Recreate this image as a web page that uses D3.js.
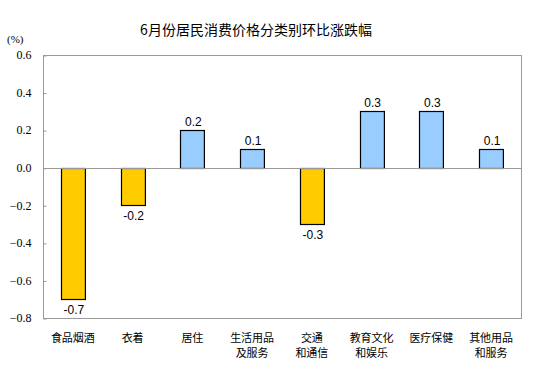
<!DOCTYPE html>
<html>
<head>
<meta charset="utf-8">
<script src="https://cdn.jsdelivr.net/npm/d3@7"></script>
<style>
  body { margin:0; background:#fff; }
  svg { display:block; }
</style>
</head>
<body>
<div id="chart"></div>
<script>
// data
const categories = [["食品烟酒"], ["衣着"], ["居住"], ["生活用品", "及服务"], ["交通", "和通信"], ["教育文化", "和娱乐"], ["医疗保健"], ["其他用品", "和服务"]];
const values = [-0.7, -0.2, 0.2, 0.1, -0.3, 0.3, 0.3, 0.1];
const yTicks = [0.6, 0.4, 0.2, 0.0, -0.2, -0.4, -0.6, -0.8];
const title = "6月份居民消费价格分类别环比涨跌幅";

let width = 554, height = 384,
    margin = { top:55, left:43, right:33, bottom:66 },
    innerW = width - margin.left - margin.right,
    innerH = height - margin.top - margin.bottom;

let svg = d3.select("#chart").append("svg").attr("width", width).attr("height", height)
let g = svg.append("g").attr("transform", `translate(${margin.left},${margin.top})`)

let xScale = d3.scaleBand().domain(d3.range(values.length)).range([0, innerW]).paddingInner(0.6).paddingOuter(0.3)
let yScale = d3.scaleLinear().domain([-0.8, 0.6]).range([innerH, 0])

// frame
g.append("rect").attr("x", 0.5).attr("y", 0.5).attr("width", innerW).attr("height", innerH)
  .attr("fill", "none").attr("stroke", "#999").attr("stroke-width", 1)

// y axis
let yAxis = d3.axisLeft(yScale).tickValues(yTicks).tickFormat(d3.format(".1f")).tickSize(-3).tickPadding(12)
let yGroup = g.append("g").attr("transform", "translate(0.5,0)").call(yAxis)
yGroup.select(".domain").remove()
yGroup.selectAll("line").attr("stroke", "#999").attr("transform", "translate(0,0.5)")
yGroup.selectAll("text").attr("font-family", "'Liberation Serif', serif").attr("font-size", 12).attr("fill", "#000")

// bars
g.selectAll("rect.bar").data(values).enter().append("rect")
  .attr("class", "bar")
  .attr("x", (d, i) => Math.round(xScale(i)) + 0.5)
  .attr("y", d => Math.round(yScale(Math.max(0, d))) + 0.5)
  .attr("width", xScale.bandwidth())
  .attr("height", d => Math.abs(Math.round(yScale(d)) - Math.round(yScale(0))))
  .attr("fill", d => d < 0 ? "#FFCC00" : "#99CCFF")
  .attr("stroke", "#000").attr("stroke-width", 1.2)

// zero line
g.append("line").attr("x1", 0).attr("x2", innerW)
  .attr("y1", Math.round(yScale(0)) + 0.5).attr("y2", Math.round(yScale(0)) + 0.5)
  .attr("stroke", "#999")

// value labels
g.selectAll("text.val").data(values).enter().append("text")
  .attr("class", "val")
  .attr("x", (d, i) => xScale(i) + xScale.bandwidth() / 2 + 1)
  .attr("y", d => d < 0 ? yScale(d) + 15 : yScale(d) - 4)
  .attr("text-anchor", "middle")
  .attr("font-family", "'Liberation Sans', Arial, sans-serif").attr("font-size", 12)
  .text(d => d.toFixed(1))

// category labels
let cat = g.selectAll("text.cat").data(categories).enter().append("text")
  .attr("class", "cat")
  .attr("text-anchor", "middle")
  .attr("font-family", "'Noto Sans CJK SC', sans-serif").attr("font-size", 11)
cat.selectAll("tspan").data((d, i) => d.map(s => ({ s, i }))).enter().append("tspan")
  .attr("x", d => xScale(d.i) + xScale.bandwidth() / 2)
  .attr("y", (d, j) => innerH + 24 + j * 15)
  .text(d => d.s)

// title and unit
svg.append("text").attr("x", 256).attr("y", 35).attr("text-anchor", "middle")
  .attr("font-family", "'Noto Sans CJK SC', sans-serif").attr("font-size", 14).text(title)
svg.append("text").attr("x", 7).attr("y", 43)
  .attr("font-family", "'Liberation Serif', serif").attr("font-size", 11).text("(%)")
</script>
</body>
</html>
